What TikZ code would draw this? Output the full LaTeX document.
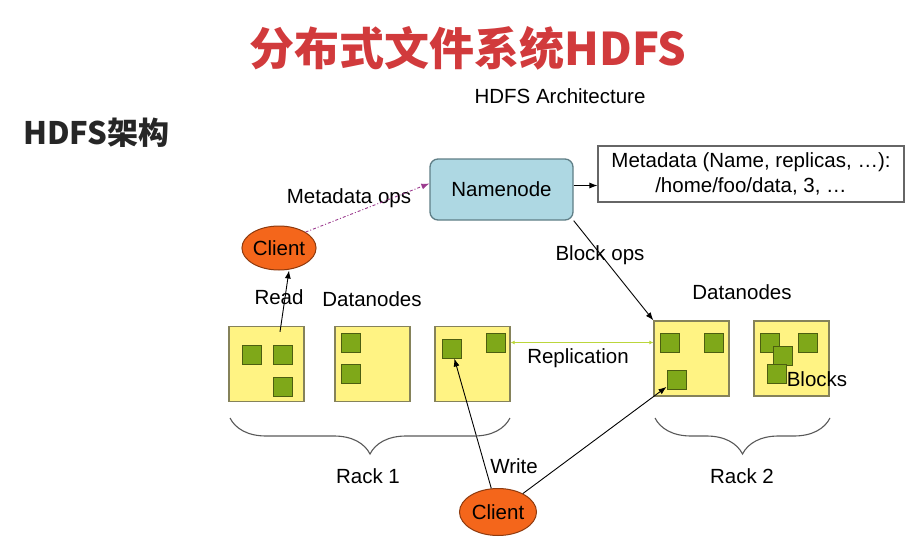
\documentclass[tikz,border=0pt]{standalone}
\usepackage{fontspec}
\setmainfont{Liberation Sans}
\newfontfamily\cjk{Noto Sans CJK SC}
\usetikzlibrary{shapes.geometric,arrows.meta,decorations.pathreplacing}

\definecolor{titlered}{HTML}{D13A3C}
\definecolor{nnblue}{HTML}{AED8E3}
\definecolor{nnborder}{HTML}{5F7E86}
\definecolor{clientorange}{HTML}{F4661B}
\definecolor{clientborder}{HTML}{8E3A0E}
\definecolor{dnyellow}{HTML}{FFF383}
\definecolor{dnborder}{HTML}{85825A}
\definecolor{blockgreen}{HTML}{7FA819}
\definecolor{blockborder}{HTML}{4C5E10}
\definecolor{replgreen}{HTML}{BBD63C}
\definecolor{opspurple}{HTML}{9B3A8E}

\begin{document}
\begin{tikzpicture}[x=1pt,y=-1pt,
  txt/.style={font=\fontsize{20.5}{24.5}\selectfont, inner sep=0pt},
  client/.style={draw=clientborder, fill=clientorange, ellipse, line width=1pt, inner sep=0pt, font=\fontsize{20.5}{24.5}\selectfont},
  dnbox/.style={draw=dnborder, fill=dnyellow, line width=1.3pt, minimum size=75pt, inner sep=0pt},
  block/.style={draw=blockborder, fill=blockgreen, line width=1pt, minimum size=19pt, inner sep=0pt},
  conn/.style={draw, line width=0.9pt, -{Latex[length=8pt,width=6pt]}},
  rack/.style={draw=black!65, line width=1.1pt, decorate, decoration={brace, mirror, amplitude=36pt}}]
\useasboundingbox (0,0) rectangle (923,543);

% headings
\node[font=\cjk\bfseries\fontsize{45}{50}\selectfont, text=titlered, inner sep=0pt] (title) at (468,48) {分布式文件系统HDFS};
\node[txt] (arch) at (560,96) {HDFS Architecture};
\node[font=\cjk\bfseries\fontsize{31}{36}\selectfont, text=black!85, inner sep=0pt, anchor=west] (head) at (23,133) {HDFS架构};

% namenode and metadata
\node[draw=nnborder, fill=nnblue, rounded corners=8pt, line width=1.3pt, minimum width=143pt, minimum height=61pt, font=\fontsize{20.5}{24.5}\selectfont] (nn) at (501.5,189.5) {Namenode};
\node[draw=black!60, line width=1.1pt, minimum width=306pt, minimum height=56pt, align=center, font=\fontsize{20.5}{24.5}\selectfont, inner sep=0pt] (meta) at (751,174) {Metadata (Name, replicas, …):\\/home/foo/data, 3, …};
\path[conn] ([yshift=4pt]nn.east) -- ([yshift=4pt]nn.east -| meta.west);

% clients
\node[client, minimum width=74pt, minimum height=44pt] (c1) at (279,248) {Client};
\node[client, minimum width=77pt, minimum height=47pt] (c2) at (498,512) {Client};

% rack 1
\node[dnbox] (r1a) at (266.5,364) {};
\node[dnbox] (r1b) at (372.5,364) {};
\node[dnbox] (r1c) at (472.5,364) {};
\node[block] (b1) at (251.5,354.5) {};
\node[block] (b2) at (282.5,354.5) {};
\node[block] (b3) at (282.5,386.5) {};
\node[block] (b4) at (351,342.5) {};
\node[block] (b5) at (351,373.5) {};
\node[block] (b6) at (451.5,348.5) {};
\node[block] (b7) at (495.5,342.5) {};

% rack 2
\node[dnbox] (r2a) at (691.5,358.5) {};
\node[dnbox] (r2b) at (791.5,358.5) {};
\node[block] (b8) at (669.5,342.5) {};
\node[block] (b9) at (713.5,342.5) {};
\node[block] (b10) at (676.5,379.5) {};
\node[block] (b11) at (769.5,342.5) {};
\node[block] (b12) at (782.5,355.5) {};
\node[block] (b13) at (807.5,342.5) {};
\node[block] (b14) at (776.5,373.5) {};

% labels
\node[txt] (lmeta) at (349,198) {Metadata ops};
\node[txt] (lblock) at (600,255) {Block ops};
\node[txt] (lread) at (279,297) {Read};
\node[txt] (ldn1) at (372,299) {Datanodes};
\node[txt] (ldn2) at (742,292) {Datanodes};
\node[txt] (lrepl) at (578,358) {Replication};
\node[txt] (lblocks) at (817,379) {Blocks};
\node[txt] (lwrite) at (514,466) {Write};
\node[txt] (lrack1) at (368,476) {Rack 1};
\node[txt] (lrack2) at (742,476) {Rack 2};

% connectors
\path[conn, draw=opspurple, dash pattern=on 3pt off 2pt on 1pt off 2pt] (c1.north east) -- ([yshift=6pt]nn.west);
\path[conn, -{Latex[length=8pt,width=6pt]}] (nn.south east) -- (r2a.north west);
\path[conn] ([xshift=13.5pt,yshift=-6pt]r1a.north) -- ([xshift=10pt]c1.south);
\path[draw=replgreen, line width=1pt, {Latex[length=4pt,width=4pt]}-{Latex[length=4pt,width=4pt]}] (b7.east -| r1c.east) -- (b8.west -| r2a.west);
\path[conn] (c2) -- (b6);
\path[conn] (c2) -- (b10);

% racks
\draw[rack] (230,418) -- (510,418);
\draw[rack] (655,418) -- (830,418);
\end{tikzpicture}
\end{document}
